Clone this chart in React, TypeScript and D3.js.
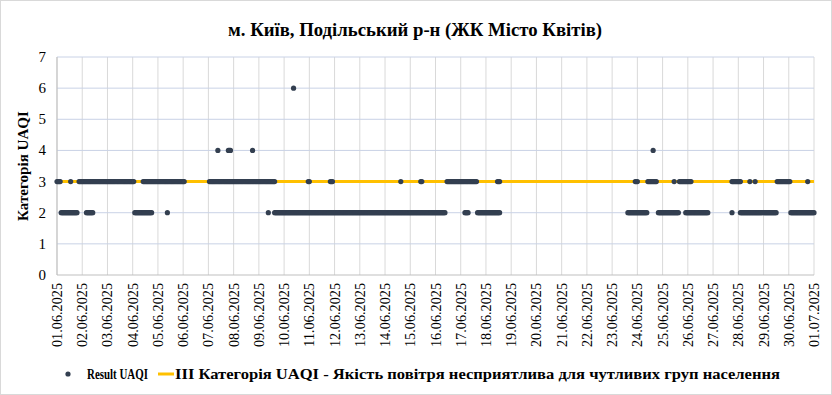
import React from "react";
import * as d3 from "d3";

// Observed hourly readings, run-length encoded: [startHour, endHour]
// Hour 0 = 01.06.2025 00:00
const runsCat3: [number, number][] = [
  [0, 3], [13, 13], [21, 73], [82, 121], [145, 207], [239, 240], [260, 262],
  [327, 327], [346, 347], [371, 399], [419, 421], [550, 552], [562, 570],
  [587, 587], [592, 603], [642, 650], [659, 659], [664, 664], [685, 697], [714, 714],
];
const runsCat2: [number, number][] = [
  [4, 19], [28, 34], [74, 90], [105, 105], [201, 201], [207, 369], [388, 391],
  [400, 421], [543, 561], [572, 591], [598, 619], [642, 642], [650, 684], [698, 720],
];
const runsCat4: [number, number][] = [[153, 153], [163, 165], [186, 186], [567, 567]];
const runsCat6: [number, number][] = [[225, 225]];

const thresholdValue = 3;
const yTicks = [0, 1, 2, 3, 4, 5, 6, 7];
const dayLabels = [
  "01.06.2025", "02.06.2025", "03.06.2025", "04.06.2025", "05.06.2025", "06.06.2025",
  "07.06.2025", "08.06.2025", "09.06.2025", "10.06.2025", "11.06.2025", "12.06.2025",
  "13.06.2025", "14.06.2025", "15.06.2025", "16.06.2025", "17.06.2025", "18.06.2025",
  "19.06.2025", "20.06.2025", "21.06.2025", "22.06.2025", "23.06.2025", "24.06.2025",
  "25.06.2025", "26.06.2025", "27.06.2025", "28.06.2025", "29.06.2025", "30.06.2025",
  "01.07.2025",
];

const title = "м. Київ, Подільський р-н (ЖК Місто Квітів)";
const yTitle = "Категорія UAQI";
const legendDots = "Result UAQI";
const legendLine = "ІІІ Категорія UAQI - Якість повітря несприятлива для чутливих груп населення";

const W = 832, H = 395;
const left = 57, right = 814, top = 57, bottom = 275;
const dotColor = "#333f50";
const lineColor = "#ffc000";
const font = "'Liberation Serif', 'Times New Roman', Times, 'DejaVu Serif', 'Noto Serif', serif";

function expand(runs: [number, number][], v: number) {
  const pts: { h: number; v: number }[] = [];
  runs.forEach(([a, b]) => {
    for (let h = a; h <= b; h++) pts.push({ h, v });
  });
  return pts;
}

export default function App() {
  const x = d3.scaleLinear().domain([0, (dayLabels.length - 1) * 24]).range([left, right]);
  const y = d3.scaleLinear().domain([0, 7]).range([bottom, top]);
  const points = [
    ...expand(runsCat3, 3),
    ...expand(runsCat2, 2),
    ...expand(runsCat4, 4),
    ...expand(runsCat6, 6),
  ];
  return (
    <svg width={W} height={H} style={{ position: "absolute", left: 0, top: 0 }} fontFamily={font}>
      <rect x={0.5} y={0.5} width={W - 1} height={H - 1} fill="#fff" stroke="#d9d9d9" />
      <text x={415} y={36} textAnchor="middle" fontSize={18} fontWeight="bold" textLength={374} lengthAdjust="spacingAndGlyphs">{title}</text>
      {dayLabels.map((_, i) => (
        <line key={"vg" + i} x1={x(i * 24)} x2={x(i * 24)} y1={top} y2={bottom} stroke="#d9d9d9" />
      ))}
      {yTicks.slice(1).map((t) => (
        <line key={"hg" + t} x1={left} x2={right} y1={y(t)} y2={y(t)} stroke="#c9d2e6" />
      ))}
      <line x1={left} x2={left} y1={top} y2={bottom} stroke="#bfbfbf" />
      <line x1={left} x2={right} y1={bottom} y2={bottom} stroke="#bfbfbf" />
      {yTicks.map((t) => (
        <text key={"yt" + t} x={46} y={y(t) + 5} textAnchor="end" fontSize={15}>{t}</text>
      ))}
      {dayLabels.map((d, i) => (
        <text
          key={"xt" + i}
          transform={`translate(${x(i * 24) + 5},${283}) rotate(-90)`}
          textAnchor="end"
          fontSize={14}
          textLength={64}
          lengthAdjust="spacingAndGlyphs"
        >
          {d}
        </text>
      ))}
      <text transform={`translate(28,${(top + bottom) / 2}) rotate(-90)`} textAnchor="middle" fontSize={15} fontWeight="bold" textLength={110} lengthAdjust="spacingAndGlyphs">
        {yTitle}
      </text>
      <line x1={x(0)} x2={x((dayLabels.length - 1) * 24)} y1={y(thresholdValue)} y2={y(thresholdValue)} stroke={lineColor} strokeWidth={3} />
      {points.map((p, i) => (
        <circle key={i} cx={x(p.h)} cy={y(p.v)} r={2.6} fill={dotColor} />
      ))}
      <circle cx={68} cy={374} r={2.6} fill={dotColor} />
      <text x={87} y={379} fontSize={14} fontWeight="bold" textLength={61} lengthAdjust="spacingAndGlyphs">{legendDots}</text>
      <line x1={158} x2={174} y1={374} y2={374} stroke={lineColor} strokeWidth={3} />
      <text x={175} y={379} fontSize={14} fontWeight="bold" textLength={605} lengthAdjust="spacingAndGlyphs">{legendLine}</text>
    </svg>
  );
}
